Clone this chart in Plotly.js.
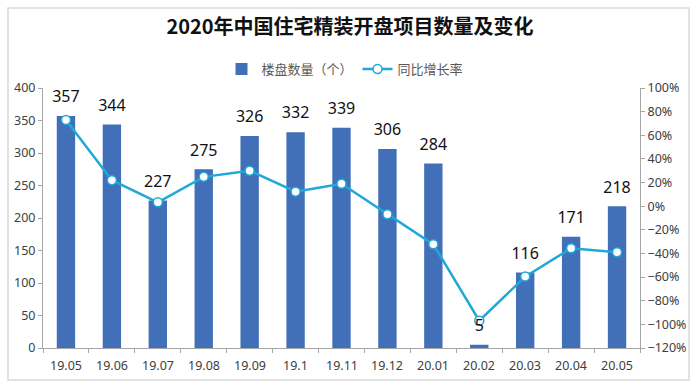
<!DOCTYPE html>
<html>
<head>
<meta charset="utf-8">
<script src="https://cdn.plot.ly/plotly-3.0.1.min.js"></script>
<style>html,body{margin:0;padding:0;background:#fff;}#chart{width:700px;height:389px;}</style>
</head>
<body>
<div id="chart"></div>
<script>
const categories = ['19.05','19.06','19.07','19.08','19.09','19.1','19.11','19.12','20.01','20.02','20.03','20.04','20.05'];
const projectCounts = [357,344,227,275,326,332,339,306,284,5,116,171,218];
const yoyGrowth = [0.73,0.22,0.033,0.248,0.30,0.123,0.19,-0.069,-0.323,-0.969,-0.596,-0.356,-0.39];

const W = 597, H = 260, L = 43, T = 88;
const px = x => (x - L) / W;
const py = y => (T + H - y) / H;

const axisColor = '#A6A6A6';
const tickFont = {family: 'Noto Sans, sans-serif', size: 12.5, color: '#404040'};

const data = [
  {
    type: 'bar', name: '楼盘数量（个）', x: categories, y: projectCounts,
    marker: {color: '#4170B8'}, hoverinfo: 'x+y'
  },
  {
    type: 'scatter', mode: 'lines+markers', name: '同比增长率', x: categories, y: yoyGrowth,
    yaxis: 'y2',
    line: {color: '#1FA8D8', width: 2.5},
    marker: {size: 9, color: '#FFFFFF', line: {color: '#1FA8D8', width: 1.5}},
    cliponaxis: false
  },
  {
    type: 'scatter', mode: 'markers+text', x: categories, y: projectCounts, yaxis: 'y3',
    showlegend: false, hoverinfo: 'skip', cliponaxis: false,
    marker: {size: 14, opacity: 0, color: '#fff'},
    text: projectCounts.map(String), textposition: 'top center',
    textfont: {family: 'Noto Sans, sans-serif', size: 16, color: '#111'}
  }
];

const categoryLabels = categories.map((c, i) => ({
  x: i, xref: 'x', y: py(365), yref: 'paper', yanchor: 'middle', xanchor: 'center',
  text: c, showarrow: false, font: tickFont
}));

const layout = {
  width: 700, height: 389,
  margin: {l: L, r: 700 - L - W, t: T, b: 389 - T - H},
  paper_bgcolor: '#FFFFFF', plot_bgcolor: '#FFFFFF',
  title: {text: '<b>2020年中国住宅精装开盘项目数量及变化</b>', x: 0.5, xref: 'container', y: 1 - 27/389, yref: 'container', yanchor: 'middle',
          font: {family: 'Noto Sans CJK SC, sans-serif', size: 20, color: '#111'}},
  showlegend: true,
  legend: {orientation: 'h', x: 345/700, xref: 'container', xanchor: 'center', y: 1 - 69/389, yref: 'container', yanchor: 'middle',
           font: {family: 'Noto Sans CJK SC, sans-serif', size: 13, color: '#595959'}, itemwidth: 30, bgcolor: 'rgba(0,0,0,0)'},
  bargap: 0.6,
  xaxis: {
    type: 'category', categoryorder: 'array', categoryarray: categories,
    range: [-0.5, categories.length - 0.5], autorange: false,
    showgrid: false, zeroline: false,
    showline: true, linecolor: axisColor, linewidth: 1,
    ticks: 'outside', ticklen: 4, tickcolor: axisColor, tickson: 'boundaries',
    showticklabels: false, automargin: false
  },
  yaxis: {
    range: [0, 400], dtick: 50, showgrid: false, zeroline: false,
    showline: true, linecolor: axisColor, linewidth: 1,
    ticks: 'outside', ticklen: 4, tickcolor: axisColor,
    tickfont: tickFont, automargin: false
  },
  yaxis2: {
    overlaying: 'y', side: 'right', range: [-1.2, 1.0], dtick: 0.2, tickformat: '.0%',
    showgrid: false, zeroline: false,
    showline: true, linecolor: axisColor, linewidth: 1,
    ticks: 'outside', ticklen: 4, tickcolor: axisColor,
    tickfont: tickFont, automargin: false
  },
  yaxis3: {
    overlaying: 'y', range: [0, 400], visible: false
  },
  annotations: categoryLabels,
  shapes: [{
    type: 'rect', xref: 'paper', yref: 'paper', layer: 'below',
    x0: px(8), x1: px(689), y0: py(380), y1: py(8),
    line: {color: '#D9D9D9', width: 1.5}, fillcolor: 'rgba(0,0,0,0)'
  }]
};

Plotly.newPlot('chart', data, layout, {displayModeBar: false, staticPlot: true});
</script>
</body>
</html>
